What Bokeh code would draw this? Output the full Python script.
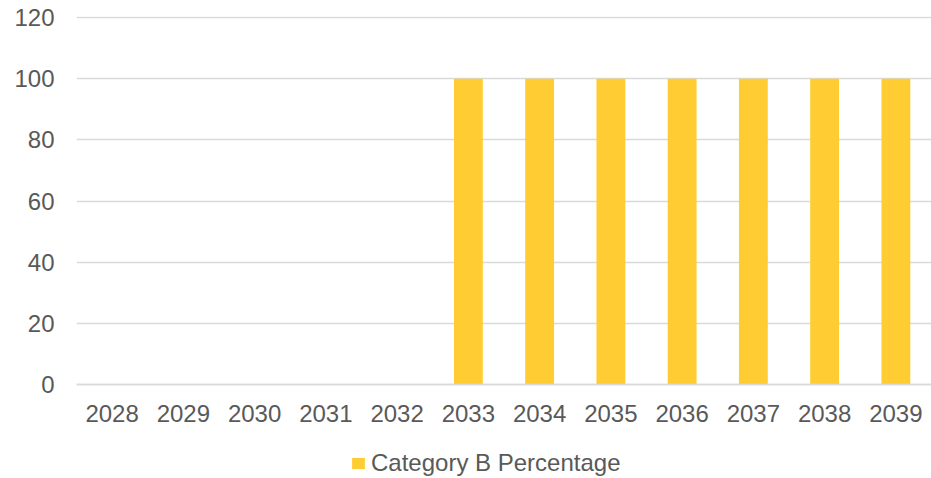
from bokeh.plotting import figure
from bokeh.models import ColumnDataSource, Legend, LegendItem, FixedTicker
from bokeh.embed import file_html
from bokeh.resources import INLINE

years = ["2028", "2029", "2030", "2031", "2032", "2033", "2034", "2035", "2036", "2037", "2038", "2039"]
category_b_pct = [0, 0, 0, 0, 0, 100, 100, 100, 100, 100, 100, 100]
y_ticks = [0, 20, 40, 60, 80, 100, 120]

FONT = "Liberation Sans"
TXT = "#595959"
BAR = "#FFCD33"

src = ColumnDataSource(dict(year=years, val=category_b_pct))

# y scale: 367 px for 120 units; frame extends below 0 to hold the legend
px_per_unit = 367 / 120
y_top = 120 + 1 / px_per_unit
y_bottom = -94 / px_per_unit

p = figure(x_range=years, y_range=(y_bottom, y_top), frame_width=855, frame_height=462,
           output_backend="svg", toolbar_location=None,
           min_border_left=76, min_border_right=0, min_border_top=16, min_border_bottom=0)
p.outline_line_color = None
r = p.vbar(x="year", top="val", width=0.405, source=src, color=BAR, line_color=None)

p.yaxis.ticker = FixedTicker(ticks=y_ticks)
p.ygrid.ticker = FixedTicker(ticks=y_ticks)
p.ygrid.grid_line_color = "#D9D9D9"
p.ygrid.grid_line_width = 1.3
p.xgrid.grid_line_color = None
for ax in (p.xaxis, p.yaxis):
    ax.major_label_text_font = FONT
    ax.major_label_text_font_size = "24px"
    ax.major_label_text_color = TXT
    ax.major_tick_line_color = None
    ax.minor_tick_line_color = None
p.yaxis.axis_line_color = None
p.yaxis.major_label_standoff = 16
p.xaxis.fixed_location = 0
p.xaxis.axis_line_color = "#D9D9D9"
p.xaxis.axis_line_width = 1.3
p.xaxis.major_label_standoff = 14

legend = Legend(items=[LegendItem(label="Category B Percentage", renderers=[r])],
                orientation="horizontal", location=(274, 1),
                label_text_font=FONT, label_text_font_size="24px", label_text_color=TXT,
                glyph_width=16, glyph_height=14, label_standoff=5,
                border_line_color=None, background_fill_alpha=0, margin=0, padding=0)
p.add_layout(legend, "center")

open("out.html", "w").write(file_html(p, INLINE))
